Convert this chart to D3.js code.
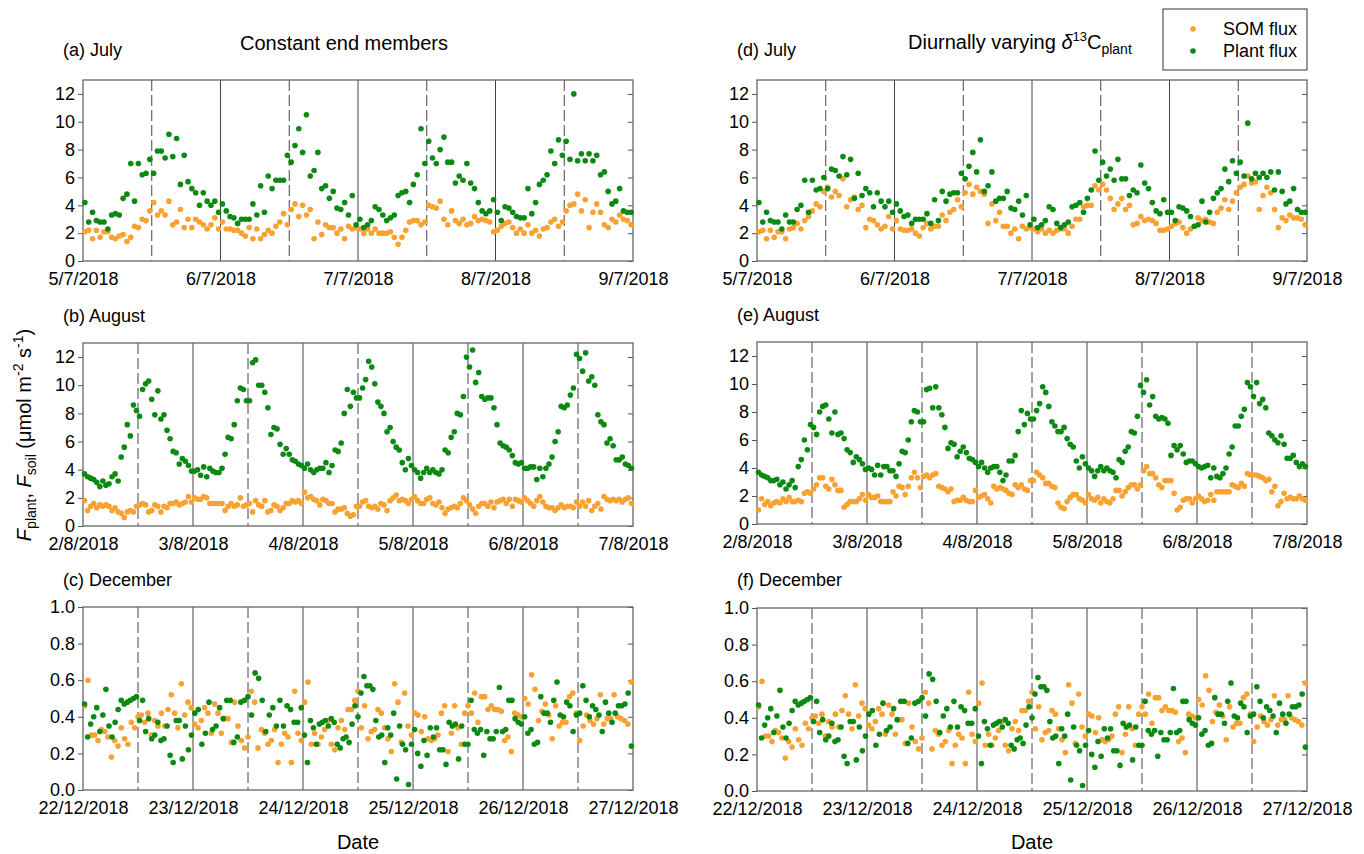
<!DOCTYPE html>
<html>
<head>
<meta charset="utf-8">
<script src="https://cdnjs.cloudflare.com/ajax/libs/d3/7.8.5/d3.min.js"></script>
<style>
    body { margin: 0; background: #fff; }
    svg { font-family: Arial, "Liberation Sans", sans-serif; }
    .tick text { font-size: 18px; fill: #000; }
    .tick line { stroke: #555; }
    .panel-label { font-size: 18px; }
</style>
</head>
<body>
<div id="chart"></div>
<script>
// tick labels
var julyDates = ["5/7/2018", "6/7/2018", "7/7/2018", "8/7/2018", "9/7/2018"];
var augDates = ["2/8/2018", "3/8/2018", "4/8/2018", "5/8/2018", "6/8/2018", "7/8/2018"];
var decDates = ["22/12/2018", "23/12/2018", "24/12/2018", "25/12/2018", "26/12/2018", "27/12/2018"];
var fluxTicks = [0, 2, 4, 6, 8, 10, 12];
var decTicks = [0, 0.2, 0.4, 0.6, 0.8, 1.0];

// values per day (umol m-2 s-1), evenly sampled within each day
var julyConstPlant = [
    [4.2,2.8,3.5,2.9,2.8,2.8,2.3,3.3,3.4,3.3,4.5,4.8,7.0,4.3,7.0,6.2,6.3,7.3,6.3,7.9,7.9,7.4,9.1,7.5,8.8,5.5,7.6,5.7,5.2,4.9,4.0,4.9,4.3,4.0,4.3,3.5],
    [4.1,3.6,3.2,3.1,2.7,3.0,3.0,3.0,4.1,3.3,5.4,3.5,6.1,5.2,5.8,5.8,5.8,7.6,7.1,8.3,9.5,7.8,10.5,6.1,6.5,7.8,5.2,5.4,4.5,5.0,3.8,3.7,4.2,3.3,4.7,2.6],
    [3.0,2.4,2.6,2.9,3.9,3.7,3.3,2.9,3.1,3.3,4.7,4.9,5.0,4.2,5.5,6.2,9.5,7.0,8.6,7.4,7.0,8.0,8.9,7.1,7.1,5.6,6.1,5.8,7.0,5.6,5.2,4.2,3.6,3.4,3.6,4.4],
    [3.5,2.9,3.9,3.8,3.5,3.2,3.1,3.1,5.2,3.4,4.2,5.5,5.8,6.2,7.9,7.0,8.7,7.6,8.6,7.3,12.0,7.2,7.7,7.2,7.7,7.2,7.6,6.2,6.4,5.0,4.1,4.3,5.2,3.6,3.5,3.5]
];
var julyConstSom = [
    [2.1,2.2,1.6,2.2,1.7,2.1,2.1,1.7,1.6,1.8,1.9,1.4,1.7,2.5,2.4,3.0,2.9,3.6,4.2,3.3,3.6,3.3,4.3,2.6,2.8,3.7,2.4,3.0,2.4,3.0,2.8,2.6,2.3,2.6,3.1,2.3],
    [2.8,2.3,2.3,2.2,2.2,2.0,1.8,2.4,1.6,2.3,1.6,1.9,2.2,2.0,2.5,2.8,3.4,2.6,3.7,4.1,3.2,4.0,3.3,3.7,1.6,2.8,1.9,2.6,2.4,2.4,2.0,2.3,1.6,2.5,2.3,2.4],
    [2.3,2.0,2.3,2.0,2.3,2.0,2.0,2.0,2.1,1.7,1.2,1.7,2.2,2.8,2.9,2.9,2.6,2.8,4.0,3.9,3.8,4.3,3.0,2.6,3.6,2.9,2.7,3.0,2.6,2.7,3.2,2.9,3.0,2.9,2.8,2.1],
    [2.2,2.5,2.7,2.8,2.4,2.0,2.3,2.0,2.6,2.0,2.2,1.8,2.3,2.4,2.8,3.0,2.5,2.8,3.6,4.0,4.1,4.8,3.6,4.4,2.4,3.5,4.1,3.5,2.6,2.4,3.0,2.8,3.3,3.0,2.9,2.6]
];
var julyDiurnPlant = [
    [4.2,2.8,3.5,2.9,2.8,2.8,2.3,3.3,2.8,2.8,3.7,4.0,5.8,3.5,5.8,5.1,5.2,6.0,5.2,6.6,6.5,6.1,7.5,6.2,7.3,4.5,6.3,4.7,5.2,4.9,3.9,4.9,4.3,3.9,4.3,3.5],
    [4.1,3.6,3.2,3.3,2.7,3.0,3.0,3.0,3.4,2.7,4.4,2.9,5.0,4.3,4.8,4.9,4.9,6.3,5.9,6.8,7.8,6.4,8.7,5.0,5.4,6.4,4.3,4.5,4.5,5.0,3.8,3.7,4.3,3.3,4.7,2.6],
    [3.0,2.4,2.6,2.9,3.9,3.7,2.7,2.4,2.6,2.8,3.9,4.0,4.2,3.5,4.5,5.1,7.9,5.8,7.1,6.1,6.6,5.8,7.3,5.9,5.9,4.7,5.1,4.9,6.9,5.6,5.2,4.2,3.6,3.4,4.4,3.5],
    [3.5,2.9,3.9,3.8,3.6,3.2,2.5,2.6,4.3,2.8,3.5,4.5,4.9,5.2,6.6,5.7,7.2,6.3,7.1,6.1,9.9,5.9,6.3,6.0,6.3,6.0,6.4,5.1,6.4,5.0,4.1,4.3,5.2,3.7,3.5,3.5]
];
var julyDiurnSom = [
    [2.1,2.2,1.6,2.2,1.7,2.1,2.1,1.6,2.3,2.4,2.7,2.3,2.9,3.2,3.6,4.1,3.9,5.0,5.3,4.6,5.0,4.7,5.9,3.9,4.4,4.6,3.7,4.0,2.4,3.0,2.9,2.6,2.3,2.5,3.2,2.3],
    [2.9,2.3,2.2,2.2,2.3,2.0,1.8,2.4,2.7,2.3,2.5,2.5,3.3,2.9,3.5,3.7,4.4,3.9,4.9,5.5,4.8,5.3,5.0,4.8,2.7,4.1,2.9,3.5,2.5,2.5,2.0,2.3,1.6,2.5,2.3,2.4],
    [2.3,2.1,2.3,2.0,2.2,2.0,2.2,2.3,2.3,2.0,2.5,3.0,3.0,3.9,4.0,4.0,5.4,5.1,5.5,5.1,4.5,3.7,4.1,4.5,3.7,4.0,2.6,2.7,3.2,2.9,3.0,2.9,2.7,2.2,2.2,2.3],
    [2.5,2.7,2.8,2.4,2.0,2.3,2.5,3.1,2.9,3.0,2.8,2.7,3.5,3.8,4.4,3.7,4.3,4.9,5.3,5.5,6.1,5.6,5.7,3.7,4.7,5.3,4.9,3.7,2.4,3.1,2.9,3.3,3.1,3.1,3.0,2.6]
];
var augConstPlant = [
    [3.7,3.5,3.4,3.3,3.1,2.8,3.2,2.9,3.0,3.5,3.7,3.2,4.9,5.6,7.2,6.4,8.6,8.2,7.8,9.7,10.1,10.3,9.0,7.9,9.6,7.6,7.9,6.8,6.2,5.3,5.2,4.4,4.8,4.6,4.3,3.9],
    [3.9,4.0,3.6,4.2,3.5,4.1,3.9,3.8,3.8,4.1,5.1,6.3,6.2,7.2,8.9,9.8,9.7,8.9,8.9,11.6,11.8,10.0,10.0,9.5,8.4,6.5,7.0,6.9,5.8,5.1,5.5,5.1,4.7,4.6,4.4,4.3],
    [4.1,4.4,4.0,3.8,4.0,4.1,4.1,4.5,3.8,4.3,5.4,5.3,5.9,8.0,9.7,8.5,9.5,9.1,9.1,9.8,10.4,11.7,11.3,10.1,8.8,8.5,8.0,6.7,7.0,6.0,5.6,5.4,4.5,4.0,4.8,4.3],
    [4.0,3.8,3.4,3.8,4.1,3.8,4.0,3.8,3.7,4.0,5.4,5.2,6.3,6.7,8.0,7.9,9.2,12.0,11.3,12.5,10.2,10.9,9.2,9.0,9.1,9.1,8.4,7.2,5.9,5.7,5.6,5.4,5.0,4.5,4.4,4.5],
    [4.1,4.1,4.2,4.2,3.3,4.1,3.5,4.1,4.4,4.9,6.0,6.7,8.5,8.4,8.6,9.3,9.8,12.2,11.9,11.0,12.3,10.3,10.6,10.0,7.9,7.4,7.2,5.9,6.2,5.7,4.7,4.7,4.9,4.4,4.3,4.1]
];
var augConstSom = [
    [1.8,1.1,1.4,1.6,1.3,1.5,1.4,1.5,1.4,1.1,1.3,1.0,0.9,0.6,1.0,1.1,1.0,1.4,1.5,1.6,1.5,1.0,1.1,1.5,1.4,1.0,1.4,1.3,1.6,1.6,1.7,1.5,1.6,1.7,2.1,1.7],
    [2.0,1.9,1.9,2.1,2.0,1.6,1.6,1.6,1.6,1.6,1.1,1.4,1.6,1.4,1.5,2.0,1.4,1.5,1.6,1.0,1.8,1.5,1.4,1.8,1.0,1.1,1.5,1.4,1.1,1.3,1.6,1.6,1.8,1.7,1.8,1.6],
    [2.4,2.0,2.1,1.9,1.8,1.5,1.9,1.8,1.6,1.6,1.0,1.2,1.2,1.3,0.9,0.7,0.8,1.4,1.4,1.7,1.8,1.4,1.3,1.4,1.2,1.6,1.5,1.1,1.8,2.0,2.2,1.8,1.9,1.8,1.6,1.9],
    [2.1,1.8,1.6,1.6,1.9,2.0,1.6,1.5,1.7,1.3,0.9,1.2,1.3,1.4,1.3,1.6,2.0,1.8,1.5,1.2,0.9,1.4,1.6,1.6,1.4,1.7,1.3,1.7,1.8,1.9,1.6,1.9,1.4,1.9,1.8,1.7],
    [2.0,1.8,1.6,1.4,1.8,2.1,1.7,1.4,1.3,1.3,1.1,1.3,1.5,1.3,1.4,1.4,1.3,1.7,1.4,1.7,1.4,1.8,1.1,1.4,1.6,1.2,2.1,1.9,1.8,1.9,1.8,1.9,1.7,1.9,2.0,1.6]
];
var augDiurnPlant = [
    [3.7,3.5,3.4,3.3,3.1,3.1,3.2,2.8,3.0,2.5,2.8,3.1,2.6,4.1,4.6,6.0,5.3,7.1,6.9,6.4,8.0,8.4,8.5,7.5,6.5,8.0,6.4,6.5,6.1,5.3,5.1,4.4,4.8,4.6,4.3,3.9],
    [4.0,3.9,3.5,4.2,3.5,4.1,4.1,3.8,3.8,3.4,4.3,5.2,5.1,6.0,7.3,8.1,8.0,7.3,7.3,9.6,9.7,8.3,9.8,8.3,7.8,6.9,5.4,5.8,5.7,4.8,5.2,5.5,5.1,4.7,4.6,4.4],
    [4.1,4.4,4.0,3.7,4.0,4.1,4.1,3.7,3.1,3.5,4.5,4.5,4.9,6.6,8.1,7.1,7.9,7.5,7.5,8.1,8.6,9.8,9.4,8.4,7.3,7.0,6.6,6.6,6.9,6.1,5.7,5.5,4.5,4.0,4.8,4.3],
    [4.0,3.8,3.4,3.8,4.1,3.8,4.0,3.8,3.7,3.3,4.6,4.4,5.2,5.5,6.6,6.5,7.7,9.9,9.4,10.3,8.5,9.1,7.7,7.5,7.6,7.5,7.2,4.9,5.6,5.3,5.6,5.0,4.4,4.5,4.5,4.3],
    [4.1,4.0,4.1,4.2,3.3,4.0,3.4,3.3,3.6,4.0,5.0,5.5,7.0,7.0,7.7,8.2,10.1,9.8,9.1,10.1,8.6,8.9,8.3,6.5,6.3,6.0,5.8,6.3,5.7,4.7,4.7,4.9,4.4,4.1,4.3,4.1]
];
var augDiurnSom = [
    [1.0,1.8,1.4,1.6,1.3,1.5,1.6,1.5,1.8,1.6,1.9,1.6,1.6,1.7,1.6,2.2,2.3,2.2,2.5,2.8,3.3,3.3,2.7,2.5,3.2,2.8,2.4,2.4,1.2,1.4,1.6,1.6,1.6,1.8,2.1,1.7],
    [2.1,1.9,1.9,2.0,1.6,1.6,1.6,1.6,2.3,2.0,2.7,2.6,2.1,2.7,3.3,3.7,3.3,2.6,3.4,3.5,3.3,3.5,3.6,2.7,2.6,2.5,2.3,2.5,1.6,1.7,1.7,1.9,1.7,1.6,1.6,2.4],
    [1.9,2.0,2.1,1.8,1.5,2.7,2.5,2.6,2.5,2.4,2.2,2.1,2.8,2.6,2.8,2.5,2.4,3.1,3.1,3.7,3.5,3.3,2.9,2.9,2.7,2.6,1.5,1.2,1.1,1.6,1.9,2.1,2.1,1.8,1.7,1.5],
    [2.1,1.8,1.7,1.9,1.5,1.8,1.6,1.5,1.8,2.4,2.4,2.0,2.3,2.6,2.8,2.8,2.5,2.8,3.8,4.1,3.6,3.6,3.3,2.8,2.6,3.1,3.1,3.1,2.2,1.0,1.2,1.7,1.8,1.8,1.5,1.8],
    [2.0,1.8,1.6,1.7,2.1,1.7,2.3,2.3,2.3,2.3,2.3,2.8,2.7,2.6,2.9,2.7,3.6,3.5,3.5,3.5,3.4,3.3,3.1,3.2,2.3,2.7,1.3,1.6,2.2,1.8,1.9,1.8,1.8,2.0,1.8,1.7]
];
var decPlant = [
    [0.47,0.29,0.36,0.40,0.45,0.32,0.41,0.55,0.35,0.29,0.37,0.44,0.49,0.47,0.48,0.49,0.50,0.51,0.38,0.49,0.32,0.39,0.28,0.30,0.37,0.27,0.28,0.35,0.19,0.15,0.38,0.38,0.17,0.35,0.22,0.30],
    [0.42,0.44,0.25,0.31,0.48,0.33,0.35,0.45,0.39,0.49,0.49,0.26,0.29,0.48,0.49,0.51,0.41,0.64,0.61,0.49,0.32,0.41,0.45,0.35,0.49,0.35,0.46,0.44,0.37,0.37,0.45],
    [0.30,0.15,0.38,0.34,0.25,0.36,0.37,0.38,0.35,0.39,0.37,0.25,0.23,0.28,0.29,0.26,0.36,0.46,0.40,0.53,0.62,0.57,0.57,0.55,0.38,0.29,0.30,0.15,0.34,0.30,0.42,0.06,0.35,0.25,0.22,0.03,0.25],
    [0.33,0.20,0.13,0.27,0.19,0.34,0.29,0.34,0.22,0.22,0.14,0.37,0.35,0.36,0.17,0.35,0.25,0.25,0.49,0.33,0.31,0.33,0.19,0.32,0.28,0.28,0.32,0.56,0.32,0.33,0.49,0.49,0.39,0.37,0.36],
    [0.40,0.31,0.33,0.25,0.26,0.51,0.42,0.42,0.37,0.49,0.59,0.41,0.40,0.48,0.46,0.32,0.41,0.42,0.57,0.49,0.40,0.46,0.44,0.41,0.32,0.48,0.42,0.37,0.42,0.46,0.46,0.47,0.53,0.24]
];
var decSom = [
    [0.46,0.60,0.30,0.30,0.27,0.33,0.32,0.29,0.18,0.27,0.24,0.34,0.28,0.25,0.37,0.34,0.40,0.41,0.37,0.42,0.30,0.38,0.35,0.42,0.35,0.44,0.52,0.42,0.34,0.58,0.41,0.48,0.45],
    [0.36,0.34,0.38,0.45,0.42,0.31,0.47,0.42,0.31,0.39,0.39,0.26,0.48,0.35,0.27,0.23,0.29,0.54,0.48,0.23,0.33,0.31,0.25,0.27,0.33,0.15,0.25,0.31,0.29,0.15,0.54,0.31,0.27],
    [0.48,0.59,0.25,0.31,0.25,0.29,0.33,0.38,0.25,0.22,0.34,0.38,0.33,0.44,0.44,0.49,0.54,0.34,0.46,0.28,0.32,0.33,0.44,0.42,0.34,0.28,0.21,0.58,0.48,0.26,0.53,0.35,0.30],
    [0.42,0.41,0.32,0.40,0.28,0.27,0.28,0.30,0.42,0.46,0.21,0.31,0.46,0.34,0.25,0.42,0.46,0.42,0.53,0.37,0.51,0.51,0.44,0.46,0.44,0.44,0.43,0.27,0.29,0.21,0.42,0.41,0.40],
    [0.50,0.47,0.63,0.55,0.38,0.43,0.47,0.41,0.28,0.46,0.35,0.37,0.37,0.51,0.53,0.42,0.27,0.35,0.41,0.38,0.36,0.39,0.52,0.36,0.39,0.39,0.52,0.40,0.39,0.38,0.36,0.59]
];

var somColor = "#f9a232";
var plantColor = "#0b8a12";

var width = 1364;
var height = 854;

var svg = d3.select("#chart")
    .append("svg")
    .attr("width", width)
    .attr("height", height);

// layout of the six panels
var panels = [
    {label: "(a) July", left: 83, right: 633, top: 80, bottom: 261, labelY: 56, dates: julyDates, ticks: fluxTicks, yMax: 13, som: julyConstSom, plant: julyConstPlant},
    {label: "(b) August", left: 83, right: 633, top: 343, bottom: 526, labelY: 322, dates: augDates, ticks: fluxTicks, yMax: 13, som: augConstSom, plant: augConstPlant},
    {label: "(c) December", left: 83, right: 633, top: 607, bottom: 790, labelY: 586, dates: decDates, ticks: decTicks, yMax: 1, som: decSom, plant: decPlant},
    {label: "(d) July", left: 757, right: 1307, top: 80, bottom: 261, labelY: 56, dates: julyDates, ticks: fluxTicks, yMax: 13, som: julyDiurnSom, plant: julyDiurnPlant},
    {label: "(e) August", left: 757, right: 1307, top: 342, bottom: 524, labelY: 321, dates: augDates, ticks: fluxTicks, yMax: 13, som: augDiurnSom, plant: augDiurnPlant},
    {label: "(f) December", left: 757, right: 1307, top: 608, bottom: 791, labelY: 586, dates: decDates, ticks: decTicks, yMax: 1, som: decSom, plant: decPlant}
];

function toPoints(days) {
    var pts = [];
    days.forEach(function (vals, d) {
        vals.forEach(function (v, j) {
            pts.push({t: d + (j + 0.5) / vals.length, v: v});
        });
    });
    return pts;
}

panels.forEach(function (p) {
    var nDays = p.dates.length - 1;
    var x = d3.scaleLinear().domain([0, nDays]).range([p.left, p.right]);
    var y = d3.scaleLinear().domain([0, p.yMax]).range([p.bottom, p.top]);
    var fmt = p.yMax > 1 ? d3.format("d") : d3.format(".1f");

    var g = svg.append("g");

    // day / midday lines
    g.selectAll("line.day")
        .data(d3.range(1, nDays * 2))
        .join("line")
        .attr("x1", k => x(k / 2))
        .attr("x2", k => x(k / 2))
        .attr("y1", p.top)
        .attr("y2", p.bottom)
        .attr("stroke", "#444")
        .attr("stroke-width", 1)
        .attr("stroke-dasharray", k => k % 2 ? "11,4" : null);

    // left axis
    var yl = g.append("g")
        .attr("transform", "translate(" + p.left + ",0)")
        .call(d3.axisLeft(y).tickValues(p.ticks).tickSize(5).tickPadding(3).tickFormat(fmt));
    yl.select(".domain").remove();

    // right ticks, pointing in
    var yr = g.append("g")
        .attr("transform", "translate(" + p.right + ",0)")
        .call(d3.axisLeft(y).tickValues(p.ticks).tickSize(5).tickFormat(""));
    yr.select(".domain").remove();

    // date labels
    var xb = g.append("g")
        .attr("transform", "translate(0," + p.bottom + ")")
        .call(d3.axisBottom(x).tickValues(d3.range(0, nDays + 1)).tickSize(0).tickPadding(11)
            .tickFormat(i => p.dates[i]));
    xb.select(".domain").remove();

    g.append("rect")
        .attr("x", p.left)
        .attr("y", p.top)
        .attr("width", p.right - p.left)
        .attr("height", p.bottom - p.top)
        .attr("fill", "none")
        .attr("stroke", "#666")
        .attr("stroke-width", 1.3);

    g.append("g")
        .selectAll("circle")
        .data(toPoints(p.som))
        .join("circle")
        .attr("cx", d => x(d.t))
        .attr("cy", d => y(d.v))
        .attr("r", 2.8)
        .attr("fill", somColor);

    g.append("g")
        .selectAll("circle")
        .data(toPoints(p.plant))
        .join("circle")
        .attr("cx", d => x(d.t))
        .attr("cy", d => y(d.v))
        .attr("r", 2.8)
        .attr("fill", plantColor);

    g.append("text")
        .attr("class", "panel-label")
        .attr("x", p.left - 20)
        .attr("y", p.labelY)
        .text(p.label);
});

// column titles
svg.append("text")
    .attr("x", 344)
    .attr("y", 50)
    .attr("text-anchor", "middle")
    .style("font-size", "20px")
    .text("Constant end members");

var t2 = svg.append("text")
    .attr("x", 908)
    .attr("y", 49)
    .style("font-size", "20px");
t2.append("tspan").text("Diurnally varying ");
t2.append("tspan").style("font-style", "italic").text("\u03b4");
t2.append("tspan").attr("dy", -8).style("font-size", "13px").text("13");
t2.append("tspan").attr("dy", 8).text("C");
t2.append("tspan").attr("dy", 5).style("font-size", "14px").text("plant");

// y title
var yt = svg.append("text")
    .attr("transform", "translate(31,435) rotate(-90)")
    .attr("text-anchor", "middle")
    .style("font-size", "20px");
yt.append("tspan").style("font-style", "italic").text("F");
yt.append("tspan").attr("dy", 5).style("font-size", "14px").text("plant");
yt.append("tspan").attr("dy", -5).text(", ");
yt.append("tspan").style("font-style", "italic").text("F");
yt.append("tspan").attr("dy", 5).style("font-size", "14px").text("soil");
yt.append("tspan").attr("dy", -5).text(" (\u03bcmol m");
yt.append("tspan").attr("dy", -8).style("font-size", "14px").text("-2");
yt.append("tspan").attr("dy", 8).text(" s");
yt.append("tspan").attr("dy", -8).style("font-size", "14px").text("-1");
yt.append("tspan").attr("dy", 8).text(")");

// x titles
[358, 1032].forEach(function (cx) {
    svg.append("text")
        .attr("x", cx)
        .attr("y", 849)
        .attr("text-anchor", "middle")
        .style("font-size", "20px")
        .text("Date");
});

// legend
var legend = svg.append("g");
legend.append("rect")
    .attr("x", 1163)
    .attr("y", 9)
    .attr("width", 144)
    .attr("height", 61)
    .attr("fill", "#fff")
    .attr("stroke", "#333")
    .attr("stroke-width", 1);
[["SOM flux", somColor, 29], ["Plant flux", plantColor, 51]].forEach(function (e) {
    legend.append("circle")
        .attr("cx", 1193)
        .attr("cy", e[2])
        .attr("r", 2.8)
        .attr("fill", e[1]);
    legend.append("text")
        .attr("x", 1223)
        .attr("y", e[2] + 6)
        .style("font-size", "18px")
        .text(e[0]);
});
</script>
</body>
</html>
